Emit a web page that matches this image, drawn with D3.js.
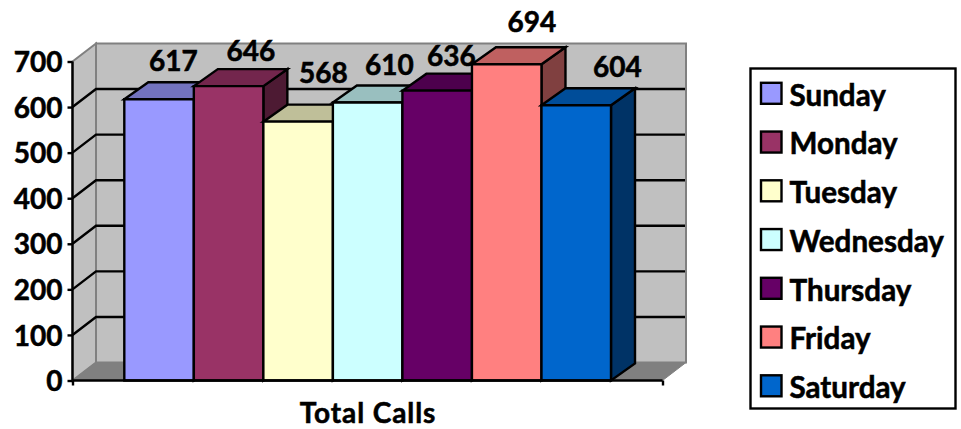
<!DOCTYPE html>
<html>
<head>
<meta charset="utf-8">
<script src="https://cdn.jsdelivr.net/npm/d3@7"></script>
<style>
html,body{margin:0;padding:0;background:#fff}
svg{display:block}
text{font-family:Lato,"Open Sans",sans-serif;font-weight:700;fill:#000;stroke:#000;stroke-width:.55px}
</style>
</head>
<body>
<svg id="c" width="961" height="429"></svg>
<script>
const categories = ["Sunday","Monday","Tuesday","Wednesday","Thursday","Friday","Saturday"];
const values = [617,646,568,610,636,694,604];
const colors = ["#9999FF","#993366","#FFFFCC","#CCFFFF","#660066","#FF8080","#0066CC"];
const yTicks = [0,100,200,300,400,500,600,700];
const xTitle = "Total Calls";

// layout
const svg = d3.select("#c");
const left = 72.5, right = 662.5, y0 = 380.5, y1 = 61.5;
const wallDx = 23.5, wallDy = 18, barDx = 24, barDy = 17;
const labelDx = [49,57,60,56.5,49,60,76];
const labelDy = [-28.3,-25.4,-39,-27.5,-25,-31.9,-28];
const y = d3.scaleLinear().domain([0,700]).range([y0,y1]);
const x = d3.scaleBand().domain(categories).range([124.3,611]).padding(0);
const shade = (c,k)=>{const r=d3.rgb(c);return d3.rgb(r.r*k,r.g*k,r.b*k).formatHex();};
const poly = pts => pts.map(p=>p.join(",")).join(" ");

// walls
svg.append("polygon").attr("points",poly([[left,y1],[left+wallDx,y1-wallDy],[left+wallDx,y0-wallDy],[left,y0]]))
  .attr("fill","#C0C0C0").attr("stroke","#808080").attr("stroke-width",2);
svg.append("rect").attr("x",left+wallDx).attr("y",y1-wallDy).attr("width",right-left).attr("height",y0-y1)
  .attr("fill","#C0C0C0").attr("stroke","#808080").attr("stroke-width",2);
svg.append("polygon").attr("points",poly([[left,y0],[left+wallDx,y0-wallDy],[right+wallDx,y0-wallDy],[right,y0]]))
  .attr("fill","#808080").attr("stroke","#808080").attr("stroke-width",1);

// gridlines
const grid = yTicks.filter(t=>t>0&&t<700);
svg.selectAll("path.grid").data(grid).join("path").attr("class","grid")
  .attr("fill","none").attr("stroke","#000").attr("stroke-width",2.4)
  .attr("d",t=>`M${left},${y(t)}L${left+wallDx},${y(t)-wallDy}H${right+wallDx-1}`);

// bars
const bars = svg.selectAll("g.bar").data(categories).join("g").attr("class","bar");
bars.each(function(c,i){
  const g=d3.select(this), a=x(c), b=a+x.bandwidth(), t=y(values[i]);
  const add=(pts,fill)=>g.append("polygon").attr("points",poly(pts)).attr("fill",fill)
    .attr("stroke","#000").attr("stroke-width",2.4).attr("stroke-linejoin","miter");
  add([[b,t],[b+barDx,t-barDy],[b+barDx,y0-barDy],[b,y0]],shade(colors[i],.5));
  add([[a,t],[a+barDx,t-barDy],[b+barDx,t-barDy],[b,t]],shade(colors[i],.75));
  add([[a,t],[b,t],[b,y0],[a,y0]],colors[i]);
});

// axes
const ax = svg.append("g").attr("transform",`translate(${left},0)`)
  .call(d3.axisLeft(y).tickValues(yTicks).tickSize(5).tickPadding(5));
ax.selectAll("path,line").attr("stroke","#000").attr("stroke-width",2.4);
ax.select("path").attr("d",`M0,${y1}V${y0}`);
ax.selectAll("text").attr("dy","0.36em").style("font-size","28px").style("font-family","Lato").style("font-weight","700").attr("fill","#000");

const xa = svg.append("g").attr("transform",`translate(0,${y0})`)
  .call(d3.axisBottom(d3.scalePoint().domain(["a","b"]).range([left,right])).tickSize(5).tickFormat(""));
xa.selectAll("path,line").attr("stroke","#000").attr("stroke-width",2.4);
xa.select("path").attr("d",`M${left},0H${right}`);

// data labels
svg.selectAll("text.val").data(values).join("text").attr("class","val")
  .attr("text-anchor","middle").style("font-size","28px")
  .attr("x",(d,i)=>x(categories[i])+labelDx[i])
  .attr("y",(d,i)=>y(d)+labelDy[i])
  .text(d=>d);

// title
svg.append("text").attr("x",368).attr("y",423).attr("text-anchor","middle")
  .style("font-size","28px").style("letter-spacing","0.9px").text(xTitle);

// legend
svg.append("rect").attr("x",750.5).attr("y",68.5).attr("width",205).attr("height",340)
  .attr("fill","#fff").attr("stroke","#000").attr("stroke-width",2.4);
const ly = d3.scalePoint().domain(categories).range([93.3,385.8]);
const lg = svg.selectAll("g.leg").data(categories).join("g").attr("class","leg")
  .attr("transform",c=>`translate(0,${ly(c)})`);
lg.append("rect").attr("x",761).attr("y",-10.5).attr("width",20.5).attr("height",21)
  .attr("fill",(c,i)=>colors[i]).attr("stroke","#000").attr("stroke-width",2.4);
lg.append("text").attr("x",789.5).attr("y",12.2).style("font-size","29.6px").text(c=>c);
</script>
</body>
</html>
